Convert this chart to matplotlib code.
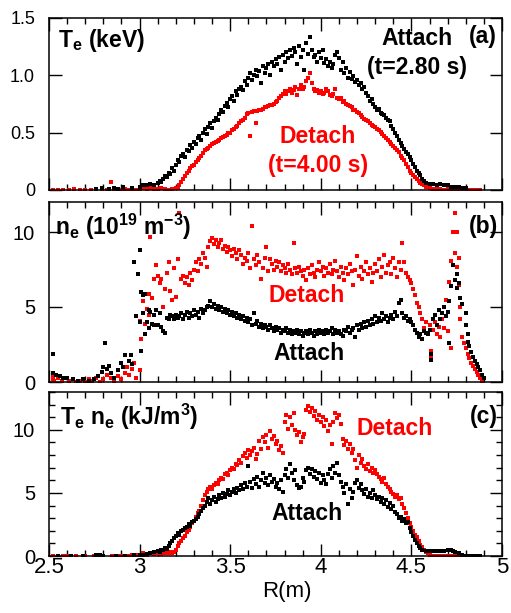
import matplotlib
matplotlib.use("Agg")
import matplotlib.pyplot as plt
import numpy as np
from matplotlib.ticker import MultipleLocator

plt.rcParams['font.family'] = ['Liberation Sans', 'DejaVu Sans']
plt.rcParams['mathtext.fontset'] = 'custom'
plt.rcParams['mathtext.rm'] = 'Liberation Sans'
plt.rcParams['mathtext.bf'] = 'Liberation Sans:bold'
plt.rcParams['mathtext.it'] = 'Liberation Sans:italic'
plt.rcParams['mathtext.default'] = 'bf'

# (R [m], value) pairs
# panel (a): Te (keV)
te_attach = [(2.76,0.01),(2.79,0.02),(2.83,0.01),(2.86,0.02),(2.88,0.01),(2.91,0.03),(2.96,0.02),(3.0,0.03),
    (3.02,0.04),(3.04,0.04),(3.06,0.05),(3.08,0.04),(3.1,0.06),(3.11,0.08),(3.12,0.07),(3.13,0.1),(3.14,0.12),
    (3.15,0.11),(3.16,0.15),(3.17,0.14),(3.18,0.19),(3.19,0.17),(3.2,0.22),(3.21,0.26),(3.22,0.24),(3.23,0.3),
    (3.24,0.31),(3.25,0.29),(3.26,0.35),(3.27,0.34),(3.28,0.39),(3.29,0.37),(3.3,0.42),(3.31,0.40),(3.32,0.45),
    (3.33,0.47),(3.34,0.44),(3.35,0.50),(3.36,0.53),(3.37,0.49),(3.38,0.55),(3.39,0.58),(3.4,0.54),(3.41,0.6),
    (3.42,0.63),(3.43,0.61),(3.44,0.66),(3.45,0.70),(3.46,0.68),(3.47,0.73),(3.48,0.76),(3.49,0.72),(3.5,0.79),
    (3.51,0.82),(3.52,0.78),(3.53,0.86),(3.54,0.83),(3.55,0.88),(3.56,0.9),(3.57,0.87),(3.58,0.95),(3.59,0.92),
    (3.6,0.98),(3.61,1.02),(3.62,0.96),(3.63,1.0),(3.64,1.05),(3.65,0.99),(3.66,1.04),(3.67,0.93),(3.68,1.08),
    (3.69,1.02),(3.7,1.06),(3.71,1.1),(3.72,1.0),(3.73,1.12),(3.74,1.08),(3.75,1.14),(3.76,1.1),(3.77,1.16),
    (3.78,1.05),(3.79,1.18),(3.8,1.12),(3.81,1.2),(3.82,1.15),(3.83,1.22),(3.84,1.17),(3.85,1.24),(3.86,1.2),
    (3.87,1.1),(3.88,1.26),(3.89,1.16),(3.9,1.22),(3.91,1.05),(3.92,1.28),(3.93,1.19),(3.94,1.33),(3.95,1.22),
    (3.96,1.16),(3.97,1.18),(3.98,1.12),(3.99,1.2),(4.0,1.15),(4.01,1.22),(4.02,1.11),(4.03,1.14),(4.04,1.08),
    (4.05,1.12),(4.06,1.06),(4.07,1.1),(4.08,1.18),(4.09,1.2),(4.1,1.15),(4.11,1.05),(4.12,1.12),(4.13,1.02),
    (4.14,1.06),(4.15,0.98),(4.16,1.03),(4.17,0.97),(4.18,0.99),(4.19,0.94),(4.2,0.96),(4.21,0.92),(4.22,0.93),
    (4.23,0.88),(4.24,0.9),(4.25,0.85),(4.26,0.82),(4.27,0.78),(4.28,0.79),(4.29,0.75),(4.3,0.72),(4.31,0.7),
    (4.32,0.71),(4.33,0.67),(4.34,0.66),(4.35,0.65),(4.36,0.63),(4.37,0.61),(4.38,0.6),(4.39,0.56),(4.4,0.53),
    (4.41,0.5),(4.42,0.47),(4.43,0.44),(4.44,0.41),(4.45,0.38),(4.46,0.36),(4.47,0.33),(4.48,0.31),(4.49,0.29),
    (4.5,0.26),(4.51,0.23),(4.52,0.2),(4.53,0.17),(4.54,0.15),(4.55,0.13),(4.56,0.1),(4.57,0.08),(4.58,0.06),
    (4.6,0.05),(4.62,0.05),(4.64,0.04),(4.66,0.05),(4.68,0.04),(4.7,0.04),(4.72,0.03),(4.74,0.03),(4.76,0.03),
    (4.78,0.02),(4.8,0.02)]
te_detach = [(2.52,0.0),(2.55,0.0),(2.58,0.0),(2.61,0.0),(2.64,0.01),(2.67,0.0),(2.7,0.0),(2.73,0.0),(2.76,0.0),
    (2.79,0.01),(2.82,0.0),(2.84,0.07),(2.86,0.0),(2.88,0.01),(2.9,0.0),(2.92,0.01),(2.94,0.0),(2.96,0.01),
    (2.98,0.0),(3.0,0.01),(3.02,0.02),(3.04,0.01),(3.06,0.02),(3.08,0.01),(3.1,0.01),(3.12,0.02),(3.14,0.01),
    (3.16,0.0),(3.18,0.01),(3.2,0.02),(3.21,0.02),(3.22,0.04),(3.23,0.07),(3.24,0.1),(3.25,0.12),(3.26,0.15),
    (3.27,0.17),(3.28,0.19),(3.29,0.21),(3.3,0.22),(3.31,0.24),(3.32,0.26),(3.33,0.28),(3.34,0.3),(3.35,0.32),
    (3.36,0.35),(3.37,0.36),(3.38,0.37),(3.39,0.38),(3.4,0.4),(3.41,0.41),(3.42,0.42),(3.43,0.43),(3.44,0.44),
    (3.45,0.45),(3.46,0.46),(3.47,0.47),(3.48,0.48),(3.49,0.5),(3.5,0.5),(3.51,0.52),(3.52,0.53),(3.53,0.55),
    (3.54,0.56),(3.55,0.58),(3.56,0.6),(3.57,0.61),(3.58,0.63),(3.59,0.66),(3.6,0.67),(3.61,0.47),(3.62,0.68),
    (3.63,0.69),(3.64,0.58),(3.65,0.69),(3.66,0.7),(3.67,0.7),(3.68,0.71),(3.69,0.72),(3.7,0.72),(3.71,0.73),
    (3.72,0.74),(3.73,0.74),(3.74,0.75),(3.75,0.77),(3.76,0.78),(3.77,0.8),(3.78,0.82),(3.79,0.84),(3.8,0.86),
    (3.81,0.84),(3.82,0.86),(3.83,0.88),(3.84,0.85),(3.85,0.87),(3.86,0.9),(3.87,0.83),(3.88,0.88),(3.89,0.92),
    (3.9,0.88),(3.91,0.9),(3.92,0.95),(3.93,0.98),(3.94,1.02),(3.95,0.93),(3.96,0.88),(3.97,0.86),(3.98,0.87),
    (3.99,0.85),(4.0,0.86),(4.01,0.84),(4.02,0.85),(4.03,0.88),(4.04,0.86),(4.05,0.83),(4.06,0.82),(4.07,0.84),
    (4.08,0.88),(4.09,0.8),(4.1,0.79),(4.11,0.8),(4.12,0.77),(4.13,0.78),(4.14,0.75),(4.15,0.74),(4.16,0.73),
    (4.17,0.72),(4.18,0.7),(4.19,0.7),(4.2,0.68),(4.21,0.67),(4.22,0.65),(4.23,0.64),(4.24,0.62),(4.25,0.61),
    (4.26,0.6),(4.27,0.58),(4.28,0.57),(4.29,0.56),(4.3,0.55),(4.31,0.53),(4.32,0.52),(4.33,0.51),(4.34,0.49),
    (4.35,0.47),(4.36,0.45),(4.37,0.44),(4.38,0.42),(4.39,0.4),(4.4,0.38),(4.41,0.37),(4.42,0.35),(4.43,0.33),
    (4.44,0.3),(4.45,0.28),(4.46,0.26),(4.47,0.23),(4.48,0.2),(4.49,0.17),(4.5,0.15),(4.51,0.13),(4.52,0.11),
    (4.53,0.1),(4.54,0.08),(4.55,0.06),(4.56,0.05),(4.57,0.04),(4.58,0.03),(4.6,0.02),(4.62,0.01),(4.64,0.01),
    (4.66,0.01),(4.68,0.0),(4.7,0.01),(4.72,0.0),(4.74,0.0),(4.76,0.0),(4.78,0.0),(4.8,0.0),(4.82,0.0),
    (4.84,0.0),(4.86,0.0),(4.88,0.0)]

# panel (b): ne (1e19 m^-3)
ne_attach = [(2.52,1.9),(2.52,0.6),(2.54,0.5),(2.56,0.4),(2.58,0.3),(2.6,0.3),(2.63,0.2),(2.66,0.1),(2.69,0.2),
    (2.72,0.1),(2.75,0.2),(2.77,0.4),(2.79,0.7),(2.8,1.0),(2.81,2.6),(2.82,0.9),(2.83,1.1),(2.84,0.6),(2.86,0.3),
    (2.88,0.8),(2.9,1.3),(2.91,1.0),(2.92,1.8),(2.94,1.4),(2.95,1.8),(2.96,1.2),(2.97,8.0),(2.98,4.4),(2.99,7.2),
    (3.0,8.8),(3.0,4.0),(3.01,6.0),(3.01,2.1),(3.02,5.8),(3.02,4.6),(3.03,5.9),(3.03,3.2),(3.04,4.0),(3.05,3.6),
    (3.05,4.8),(3.06,4.7),(3.07,3.9),(3.08,4.5),(3.08,3.8),(3.09,4.8),(3.1,3.8),(3.11,4.6),(3.12,3.7),(3.13,3.4),
    (3.14,3.3),(3.15,4.3),(3.16,4.2),(3.17,4.5),(3.18,4.4),(3.19,4.2),(3.2,4.5),(3.21,4.3),(3.22,4.4),(3.23,4.6),
    (3.24,4.2),(3.25,4.5),(3.26,4.7),(3.27,4.3),(3.28,4.6),(3.29,4.4),(3.3,4.8),(3.31,4.5),(3.32,4.7),(3.33,4.3),
    (3.34,4.9),(3.35,4.6),(3.36,4.8),(3.37,5.0),(3.38,5.1),(3.39,5.4),(3.4,5.0),(3.41,5.2),(3.42,4.9),(3.43,5.1),
    (3.44,4.8),(3.45,5.0),(3.46,4.7),(3.47,4.9),(3.48,4.6),(3.49,4.8),(3.5,4.5),(3.51,4.7),(3.52,4.4),(3.53,4.6),
    (3.54,4.3),(3.55,4.5),(3.56,4.2),(3.57,4.4),(3.58,4.1),(3.59,4.3),(3.6,4.0),(3.61,4.2),(3.62,3.8),(3.63,4.6),
    (3.64,3.9),(3.65,4.1),(3.66,3.7),(3.67,3.9),(3.68,3.6),(3.69,3.8),(3.7,3.7),(3.71,3.5),(3.72,3.8),(3.73,3.6),
    (3.74,3.4),(3.75,3.7),(3.76,3.5),(3.77,3.6),(3.78,3.3),(3.79,3.5),(3.8,3.4),(3.81,3.6),(3.82,3.3),(3.83,3.5),
    (3.84,3.2),(3.85,3.4),(3.86,3.3),(3.87,3.5),(3.88,3.2),(3.89,3.4),(3.9,3.1),(3.91,3.3),(3.92,3.4),(3.93,3.2),
    (3.94,3.5),(3.95,3.3),(3.96,3.1),(3.97,3.4),(3.98,3.2),(3.99,3.5),(4.0,3.3),(4.01,3.4),(4.02,3.2),(4.03,3.5),
    (4.04,3.3),(4.05,3.4),(4.06,3.6),(4.07,3.2),(4.08,3.5),(4.09,3.3),(4.1,3.4),(4.11,3.2),(4.12,3.1),(4.13,3.5),
    (4.14,3.4),(4.15,3.7),(4.16,3.3),(4.17,3.5),(4.18,3.6),(4.19,3.0),(4.2,3.8),(4.21,3.5),(4.22,3.9),(4.23,3.6),
    (4.24,4.0),(4.25,3.7),(4.26,4.1),(4.27,3.8),(4.28,4.2),(4.29,3.9),(4.3,4.4),(4.31,4.0),(4.32,4.3),(4.33,4.1),
    (4.34,4.6),(4.35,4.2),(4.36,4.4),(4.37,4.0),(4.38,4.3),(4.39,4.5),(4.4,4.2),(4.41,4.7),(4.42,4.4),(4.43,5.3),
    (4.44,5.5),(4.45,4.6),(4.46,4.3),(4.47,4.4),(4.48,4.1),(4.49,4.2),(4.5,4.0),(4.51,3.8),(4.52,3.5),(4.53,3.3),
    (4.54,3.0),(4.55,3.2),(4.56,2.9),(4.57,3.4),(4.58,3.3),(4.59,3.2),(4.6,3.5),(4.61,1.9),(4.61,1.5),(4.62,4.2),
    (4.63,4.5),(4.64,3.8),(4.65,4.8),(4.66,4.2),(4.67,4.6),(4.68,5.0),(4.69,4.4),(4.7,4.7),(4.71,2.6),(4.71,5.4),
    (4.72,6.4),(4.73,7.8),(4.74,6.8),(4.75,7.2),(4.75,6.3),(4.76,6.6),(4.77,5.6),(4.78,5.2),(4.8,4.6),(4.8,3.8),
    (4.81,3.2),(4.81,2.7),(4.82,2.4),(4.83,2.0),(4.84,1.7),(4.85,1.4),(4.86,1.2),(4.87,1.0),(4.88,0.8),(4.89,0.5),
    (4.9,0.3)]
ne_detach = [(2.52,0.5),(2.52,0.2),(2.53,0.1),(2.55,0.3),(2.57,0.1),(2.59,0.3),(2.61,0.1),(2.63,0.2),(2.65,0.0),
    (2.67,0.1),(2.7,0.0),(2.72,0.2),(2.74,0.1),(2.76,0.3),(2.78,0.0),(2.8,0.2),(2.82,0.5),(2.84,0.3),(2.86,0.1),
    (2.88,0.4),(2.9,0.2),(2.92,0.6),(2.93,1.0),(2.94,0.5),(2.96,0.9),(2.97,1.3),(2.98,0.3),(3.0,0.8),
    (3.0,4.1),(3.01,2.9),(3.02,5.4),(3.02,4.6),(3.03,3.9),(3.04,4.9),(3.05,5.9),(3.05,4.5),(3.06,9.7),(3.07,5.6),
    (3.08,6.9),(3.09,7.8),(3.1,7.1),(3.11,6.6),(3.12,6.9),(3.13,5.0),(3.14,6.2),(3.15,7.3),(3.16,8.0),(3.17,6.1),
    (3.18,5.5),(3.19,7.6),(3.2,5.7),(3.21,8.2),(3.22,11.3),(3.23,6.9),(3.24,7.1),(3.25,6.6),(3.26,7.0),(3.27,6.5),
    (3.28,7.3),(3.29,6.8),(3.3,7.5),(3.31,8.0),(3.32,7.4),(3.33,8.2),(3.34,7.9),(3.35,8.6),(3.36,8.3),(3.37,7.7),
    (3.38,9.0),(3.39,9.4),(3.4,9.6),(3.41,9.2),(3.42,9.5),(3.43,9.0),(3.44,9.3),(3.45,9.5),(3.46,8.9),(3.47,9.1),
    (3.48,8.7),(3.49,9.0),(3.5,8.8),(3.51,8.4),(3.52,8.9),(3.53,8.6),(3.54,8.2),(3.55,8.8),(3.56,8.5),(3.57,7.9),
    (3.58,8.3),(3.59,8.1),(3.6,8.6),(3.61,7.6),(3.62,10.4),(3.63,8.2),(3.64,7.8),(3.65,8.5),(3.66,8.0),(3.67,6.9),
    (3.68,7.6),(3.69,8.3),(3.7,9.0),(3.71,7.4),(3.72,8.2),(3.73,7.9),(3.74,7.5),(3.75,8.1),(3.76,7.7),(3.77,8.0),
    (3.78,7.4),(3.79,7.8),(3.8,7.6),(3.81,7.3),(3.82,7.9),(3.83,7.5),(3.84,7.2),(3.85,9.3),(3.86,7.6),(3.87,7.3),
    (3.88,7.7),(3.89,7.4),(3.9,7.1),(3.91,7.5),(3.92,6.8),(3.93,7.6),(3.94,7.2),(3.95,7.8),(3.96,7.3),(3.97,7.0),
    (3.98,7.5),(3.99,8.0),(4.0,7.4),(4.01,7.7),(4.02,7.1),(4.03,7.6),(4.04,7.3),(4.05,7.9),(4.06,7.2),(4.07,7.5),
    (4.08,8.1),(4.09,7.4),(4.1,7.0),(4.11,7.7),(4.12,7.3),(4.13,6.8),(4.14,7.6),(4.15,7.2),(4.16,7.9),(4.17,7.4),
    (4.18,6.5),(4.19,7.5),(4.2,8.4),(4.21,7.1),(4.22,7.7),(4.23,6.9),(4.24,7.4),(4.25,8.0),(4.26,7.2),(4.27,7.6),
    (4.28,6.7),(4.29,7.3),(4.3,7.9),(4.31,7.4),(4.32,8.2),(4.33,7.0),(4.34,7.7),(4.35,8.5),(4.36,7.3),(4.37,7.8),
    (4.38,8.0),(4.39,7.2),(4.4,8.3),(4.41,7.6),(4.42,7.0),(4.43,8.0),(4.44,7.5),(4.45,9.3),(4.46,8.0),(4.47,7.3),
    (4.48,7.0),(4.49,6.8),(4.5,6.6),(4.51,6.2),(4.52,5.8),(4.53,5.3),(4.54,5.0),(4.55,4.6),(4.56,4.2),(4.57,3.6),
    (4.58,4.0),(4.59,3.3),(4.6,3.8),(4.61,2.1),(4.61,1.6),(4.62,3.5),(4.63,4.0),(4.64,3.2),(4.65,3.7),(4.66,3.0),
    (4.67,4.2),(4.68,3.6),(4.69,5.5),(4.7,3.4),(4.71,6.7),(4.72,2.3),(4.72,8.1),(4.73,10.0),(4.74,11.3),(4.74,8.6),
    (4.75,10.0),(4.75,7.7),(4.76,6.5),(4.76,8.3),(4.77,5.0),(4.77,4.2),(4.78,3.0),(4.79,2.6),(4.8,2.3),(4.81,1.9),
    (4.82,1.6),(4.83,1.3),(4.84,1.1),(4.85,0.9),(4.86,0.7),(4.87,0.5),(4.88,0.3),(4.89,0.1)]

# panel (c): Te*ne (kJ/m^3)
pe_attach = [(2.55,0.0),(2.62,0.0),(2.69,0.0),(2.76,0.05),(2.78,0.1),(2.8,0.0),(2.87,0.0),(2.92,0.0),(2.97,0.05),
    (3.0,0.1),(3.02,0.1),(3.04,0.15),(3.06,0.2),(3.08,0.3),(3.1,0.4),(3.11,0.35),(3.12,0.5),(3.13,0.45),(3.14,0.6),
    (3.15,0.55),(3.16,0.8),(3.17,1.0),(3.18,1.2),(3.19,1.4),(3.2,1.6),(3.21,1.8),(3.22,1.7),(3.23,2.0),(3.24,2.1),
    (3.25,2.2),(3.26,2.3),(3.27,2.5),(3.28,2.4),(3.29,2.7),(3.3,2.8),(3.31,2.9),(3.32,3.1),(3.33,3.3),(3.34,3.6),
    (3.35,3.8),(3.36,4.0),(3.37,4.3),(3.38,4.6),(3.39,4.1),(3.4,4.4),(3.41,4.7),(3.42,4.3),(3.43,4.5),(3.44,4.8),
    (3.45,4.6),(3.46,5.0),(3.47,4.7),(3.48,4.9),(3.49,5.2),(3.5,4.8),(3.51,5.1),(3.52,5.3),(3.53,5.0),(3.54,5.4),
    (3.55,5.2),(3.56,5.6),(3.57,5.3),(3.58,5.8),(3.59,5.5),(3.6,7.1),(3.61,5.9),(3.62,5.4),(3.63,6.1),(3.64,5.7),
    (3.65,6.3),(3.66,5.5),(3.67,6.0),(3.68,6.6),(3.69,5.8),(3.7,6.2),(3.71,5.6),(3.72,6.4),(3.73,5.9),(3.74,6.1),
    (3.75,5.5),(3.76,5.8),(3.77,5.3),(3.78,6.0),(3.79,5.1),(3.8,6.4),(3.81,6.9),(3.82,6.2),(3.83,7.3),(3.84,6.6),
    (3.85,6.0),(3.86,6.8),(3.87,5.6),(3.88,5.4),(3.89,5.5),(3.9,6.2),(3.91,5.9),(3.92,6.8),(3.93,7.0),(3.94,6.5),
    (3.95,6.9),(3.96,6.3),(3.97,6.7),(3.98,6.1),(3.99,6.6),(4.0,5.8),(4.01,6.4),(4.02,6.0),(4.03,5.7),(4.04,6.5),
    (4.05,6.9),(4.06,6.2),(4.07,7.1),(4.08,6.6),(4.09,7.4),(4.1,6.4),(4.11,5.9),(4.12,5.5),(4.13,5.0),(4.14,5.7),
    (4.15,4.1),(4.16,5.3),(4.17,4.6),(4.18,5.1),(4.19,5.8),(4.2,6.0),(4.21,5.4),(4.22,5.7),(4.23,5.2),(4.24,4.9),
    (4.25,5.3),(4.26,4.7),(4.27,5.0),(4.28,4.6),(4.29,5.2),(4.3,4.8),(4.31,4.5),(4.32,4.7),(4.33,4.3),(4.34,4.6),
    (4.35,4.1),(4.36,4.4),(4.37,3.9),(4.38,4.2),(4.39,3.7),(4.4,4.0),(4.41,3.5),(4.42,3.3),(4.43,3.0),(4.44,3.1),
    (4.45,2.8),(4.46,2.9),(4.47,2.6),(4.48,2.7),(4.49,2.2),(4.5,1.9),(4.51,1.6),(4.52,1.3),(4.53,1.0),(4.54,0.8),
    (4.55,0.6),(4.56,0.5),(4.58,0.4),(4.6,0.4),(4.62,0.4),(4.64,0.4),(4.66,0.4),(4.68,0.4),(4.7,0.45),(4.71,0.5),
    (4.72,0.5),(4.73,0.4),(4.74,0.3),(4.76,0.2),(4.78,0.1),(4.8,0.0),(4.82,0.0),(4.84,0.0),(4.86,0.0),(4.88,0.0)]
pe_detach = [(2.52,0.0),(2.55,0.0),(2.58,0.0),(2.6,0.0),(2.65,0.0),(2.7,0.0),(2.75,0.0),(2.8,0.0),(2.85,0.0),
    (2.88,0.0),(2.9,0.0),(2.92,0.0),(2.94,0.0),(2.96,0.05),(2.98,0.1),(3.0,0.1),(3.02,0.2),(3.04,0.1),(3.06,0.2),
    (3.08,0.15),(3.1,0.2),(3.12,0.15),(3.14,0.2),(3.16,0.2),(3.17,0.3),(3.18,0.2),(3.19,0.3),(3.2,0.5),(3.21,0.8),
    (3.22,1.0),(3.23,1.2),(3.24,1.4),(3.25,1.6),(3.26,1.9),(3.27,2.1),(3.28,2.3),(3.29,2.6),(3.3,2.8),(3.31,3.1),
    (3.32,3.4),(3.33,3.6),(3.34,4.0),(3.35,4.4),(3.36,4.8),(3.37,5.1),(3.38,5.3),(3.39,5.5),(3.4,5.3),(3.41,5.6),
    (3.42,5.8),(3.43,5.7),(3.44,6.0),(3.45,6.2),(3.46,6.1),(3.47,6.5),(3.48,6.6),(3.49,6.4),(3.5,6.8),(3.51,7.0),
    (3.52,6.9),(3.53,7.3),(3.54,7.2),(3.55,7.6),(3.56,7.4),(3.57,7.9),(3.58,8.2),(3.59,7.8),(3.6,8.4),(3.61,8.0),
    (3.62,8.3),(3.63,8.6),(3.64,7.7),(3.65,8.1),(3.66,9.1),(3.67,8.5),(3.68,9.4),(3.69,9.0),(3.7,9.6),(3.71,8.6),
    (3.72,9.9),(3.73,9.3),(3.74,9.5),(3.75,8.9),(3.76,9.1),(3.77,8.4),(3.78,8.7),(3.79,8.2),(3.8,10.6),(3.81,11.2),
    (3.82,10.1),(3.83,11.0),(3.84,10.4),(3.85,11.3),(3.86,10.0),(3.87,9.6),(3.88,9.8),(3.89,9.0),(3.9,9.4),
    (3.91,9.7),(3.92,11.6),(3.93,11.9),(3.94,11.4),(3.95,11.7),(3.96,11.1),(3.97,11.5),(3.98,10.8),(3.99,11.2),
    (4.0,10.6),(4.01,11.0),(4.02,10.3),(4.03,10.8),(4.04,9.9),(4.05,10.4),(4.06,8.9),(4.07,10.6),(4.08,11.3),
    (4.09,10.9),(4.1,11.2),(4.11,10.5),(4.12,9.3),(4.13,8.8),(4.14,9.1),(4.15,8.5),(4.16,8.9),(4.17,8.2),(4.18,8.5),
    (4.19,7.6),(4.2,7.0),(4.21,8.0),(4.22,7.4),(4.23,7.7),(4.24,7.1),(4.25,6.9),(4.26,7.3),(4.27,6.7),(4.28,7.0),
    (4.29,6.6),(4.3,6.8),(4.31,6.5),(4.32,6.3),(4.33,6.1),(4.34,5.9),(4.35,6.2),(4.36,5.7),(4.37,5.5),(4.38,5.3),
    (4.39,5.1),(4.4,4.9),(4.41,4.7),(4.42,4.8),(4.43,4.5),(4.44,4.6),(4.45,4.1),(4.46,3.8),(4.47,3.4),(4.48,3.0),
    (4.49,2.6),(4.5,2.3),(4.51,2.0),(4.52,1.7),(4.53,1.5),(4.54,1.2),(4.55,0.9),(4.56,0.7),(4.57,0.5),(4.58,0.3),
    (4.59,0.2),(4.6,0.1),(4.62,0.0),(4.64,0.0),(4.66,0.0),(4.68,0.0),(4.7,0.0),(4.72,0.0),(4.74,0.0),(4.76,0.0),
    (4.78,0.0),(4.8,0.0),(4.82,0.0),(4.84,0.0),(4.86,0.0),(4.88,0.0)]

x_ticks = [2.5, 3, 3.5, 4, 4.5, 5]
x_ticklabels = ['2.5', '3', '3.5', '4', '4.5', '5']

W, H = 511, 613
fig = plt.figure(figsize=(W / 100, H / 100), dpi=100)


def px_axes(left, top, right, bottom):
    return fig.add_axes([left / W, 1 - bottom / H, (right - left) / W, (bottom - top) / H])


ax_a = px_axes(49, 18, 502, 190)
ax_b = px_axes(49, 202, 502, 382)
ax_c = px_axes(49, 392, 502, 556)

panels = [
    (ax_a, te_attach, te_detach, (0, 1.5), [0, 0.5, 1.0, 1.5], ['0', '0.5', '1.0', '1.5'], None, 13),
    (ax_b, ne_attach, ne_detach, (0, 12), [0, 5, 10], ['0', '5', '10'], None, 14.5),
    (ax_c, pe_attach, pe_detach, (0, 13), [0, 5, 10], ['0', '5', '10'], 1, 14.5),
]

for ax, att, det, ylim, yt, ytl, yminor, tfs in panels:
    ra, va = np.array(att).T
    rd, vd = np.array(det).T
    ax.plot(rd, vd, 's', color='#ff0000', ms=2.6, mew=0, zorder=2)
    ax.plot(ra, va, 's', color='black', ms=2.6, mew=0, zorder=3)
    ax.set_xlim(2.5, 5)
    ax.set_ylim(*ylim)
    ax.set_yticks(yt)
    ax.set_yticklabels(ytl, fontsize=tfs)
    ax.set_xticks(x_ticks)
    ax.xaxis.set_minor_locator(MultipleLocator(0.1))
    if yminor:
        ax.yaxis.set_minor_locator(MultipleLocator(yminor))
    ax.tick_params(which='both', direction='in', top=True, right=True, width=1, colors='black')
    ax.tick_params(which='major', length=9)
    ax.tick_params(which='minor', length=4.5)
    ax.tick_params(axis='y', which='major', pad=10)
    ax.tick_params(axis='x', which='major', pad=1)
    for s in ax.spines.values():
        s.set_linewidth(1.1)
    if ax is ax_c:
        ax.set_xticklabels(x_ticklabels, fontsize=16)
    else:
        ax.set_xticklabels([])

fs = 16.5
red = '#ff0000'
ax_a.text(0.02, 0.833, 'T$_e$ (keV)', transform=ax_a.transAxes, fontsize=fs, fontweight='bold', va='baseline')
ax_a.text(0.812, 0.843, 'Attach', transform=ax_a.transAxes, fontsize=fs, fontweight='bold', ha='center', va='baseline')
ax_a.text(0.957, 0.855, '(a)', transform=ax_a.transAxes, fontsize=fs, fontweight='bold', ha='center', va='baseline')
ax_a.text(0.813, 0.674, '(t=2.80 s)', transform=ax_a.transAxes, fontsize=fs, fontweight='bold', ha='center', va='baseline')
ax_a.text(0.594, 0.271, 'Detach', transform=ax_a.transAxes, fontsize=fs, fontweight='bold', ha='center', va='baseline', color=red)
ax_a.text(0.594, 0.106, '(t=4.00 s)', transform=ax_a.transAxes, fontsize=fs, fontweight='bold', ha='center', va='baseline', color=red)

ax_b.text(0.013, 0.817, 'n$_e$ (10$^{19}$ m$^{-3}$)', transform=ax_b.transAxes, fontsize=fs, fontweight='bold', va='baseline')
ax_b.text(0.96, 0.828, '(b)', transform=ax_b.transAxes, fontsize=fs, fontweight='bold', ha='center', va='baseline')
ax_b.text(0.569, 0.446, 'Detach', transform=ax_b.transAxes, fontsize=fs, fontweight='bold', ha='center', va='baseline', color=red)
ax_b.text(0.574, 0.122, 'Attach', transform=ax_b.transAxes, fontsize=fs, fontweight='bold', ha='center', va='baseline')

ax_c.text(0.024, 0.799, 'T$_e$ n$_e$ (kJ/m$^3$)', transform=ax_c.transAxes, fontsize=fs, fontweight='bold', va='baseline')
ax_c.text(0.96, 0.811, '(c)', transform=ax_c.transAxes, fontsize=fs, fontweight='bold', ha='center', va='baseline')
ax_c.text(0.764, 0.738, 'Detach', transform=ax_c.transAxes, fontsize=fs, fontweight='bold', ha='center', va='baseline', color=red)
ax_c.text(0.569, 0.22, 'Attach', transform=ax_c.transAxes, fontsize=fs, fontweight='bold', ha='center', va='baseline')

fig.text(287 / W, 1 - 597 / H, 'R(m)', fontsize=16, ha='center', va='baseline')

fig.savefig('out.png', dpi=100)
